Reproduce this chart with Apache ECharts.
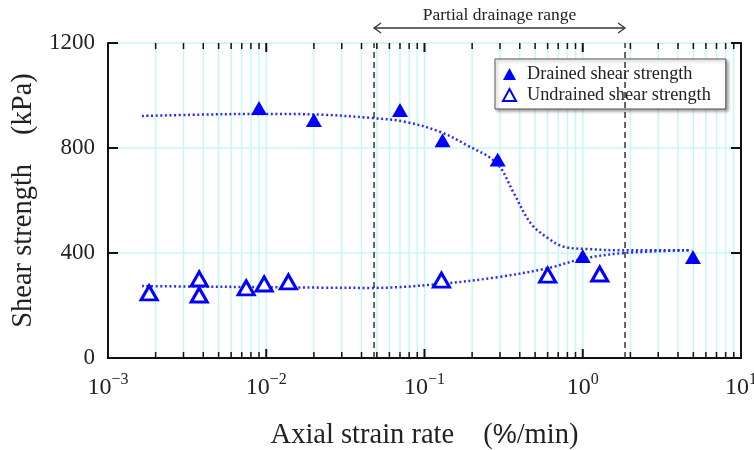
<!DOCTYPE html>
<html>
<head>
<meta charset="utf-8">
<script src="https://cdn.jsdelivr.net/npm/echarts@6/dist/echarts.min.js"></script>
<style>
html,body{margin:0;padding:0;background:#fff;}
#chart{width:754px;height:450px;}
</style>
</head>
<body>
<div id="chart"></div>
<script>
// ---- data ----
const drainedRate = [0.009, 0.020, 0.070, 0.130, 0.29, 1.0, 4.97];
const drainedStrength = [952, 907, 945, 830, 756, 389, 385];
const undrainedRate = [0.00182, 0.00377, 0.00377, 0.00747, 0.0097, 0.0138, 0.128, 0.60, 1.28];
const undrainedStrength = [248, 301, 240, 267, 282, 290, 297, 316, 320];

const drainedFitRate = [0.00164, 0.0038, 0.009, 0.022, 0.047, 0.075, 0.125, 0.185, 0.286, 0.366, 0.468, 0.60, 0.76, 1.07, 1.83, 4.85];
const drainedFitStrength = [922, 927, 930, 927, 914, 900, 862, 811, 742, 629, 514, 457, 424, 415, 410, 411];
const undrainedFitRate = [0.00164, 0.0038, 0.009, 0.022, 0.047, 0.125, 0.29, 0.60, 1.0, 1.83, 4.85];
const undrainedFitStrength = [274, 272, 270, 268, 267, 282, 308, 342, 378, 400, 411];

const drainageRange = [0.048, 1.85];
const xExponents = [-3, -2, -1, 0, 1];
const yTickValues = [0, 400, 800, 1200];
const drainageLabel = 'Partial drainage range';
const seriesNames = ['Drained shear strength', 'Undrained shear strength'];

// tick values for the log axis (1..9 x 10^k)
const xTickValues = [];
for (let k = xExponents[0]; k < xExponents[xExponents.length - 1]; k++) {
  for (let m = 1; m <= 9; m++) xTickValues.push([m * Math.pow(10, k), m === 1 ? 1 : 0, 0]);
}
xTickValues.push([Math.pow(10, xExponents[xExponents.length - 1]), 1, 0]);

const serif = '"Liberation Serif", "Times New Roman", serif';
const textColor = '#222';
const blue = '#0000ff';
const gridColor = '#c6f7f7';

const zip = (a, b) => a.map((v, i) => [v, b[i]]);
const yMin = yTickValues[0], yMax = yTickValues[yTickValues.length - 1];

const chart = echarts.init(document.getElementById('chart'), null, {renderer: 'canvas'});

const option = {
  animation: false,
  backgroundColor: '#fff',
  grid: {left: 108, right: 13, top: 43, bottom: 92, containLabel: false, outerBoundsMode: 'none'},
  legend: {
    data: [
      {name: seriesNames[0], icon: 'triangle'},
      {name: seriesNames[1], icon: 'triangle'}
    ],
    orient: 'vertical',
    left: 495, top: 59,
    padding: [6, 15, 5, 7],
    itemGap: 3,
    itemWidth: 13, itemHeight: 12,
    backgroundColor: '#fff',
    borderColor: '#555', borderWidth: 1,
    shadowBlur: 3, shadowColor: 'rgba(0,0,0,0.35)', shadowOffsetX: 2, shadowOffsetY: 2,
    textStyle: {fontFamily: serif, fontSize: 18.3, color: textColor, padding: [0, 0, 0, 6]},
    selectedMode: false
  },
  xAxis: [{
    type: 'log', logBase: 10,
    min: Math.pow(10, xExponents[0]), max: Math.pow(10, xExponents[xExponents.length - 1]),
    name: '{a|Axial strain rate\u3000(}{p|%}{a|/min)}',
    nameLocation: 'middle', nameGap: 63,
    nameTextStyle: {
      fontFamily: serif, fontSize: 28, color: textColor,
      rich: {
        a: {fontFamily: serif, fontSize: 28.5, color: textColor},
        p: {fontFamily: '"Liberation Sans", Arial, sans-serif', fontSize: 27, color: textColor}
      }
    },
    axisLine: {lineStyle: {color: '#111', width: 2}},
    axisTick: {show: false},
    splitLine: {show: false},
    minorTick: {show: false},
    axisLabel: {
      margin: 14,
      formatter: function (v) {
        const e = Math.round(Math.log10(v));
        return '{b|10}{s|' + (e < 0 ? '\u2212' + (-e) : e) + '}';
      },
      rich: {
        b: {fontFamily: serif, fontSize: 24, color: textColor, verticalAlign: 'bottom', lineHeight: 28},
        s: {fontFamily: serif, fontSize: 16, color: textColor, verticalAlign: 'top', lineHeight: 28, padding: [0, 0, 10, 0]}
      }
    }
  }, {
    type: 'log', logBase: 10, position: 'top',
    min: Math.pow(10, xExponents[0]), max: Math.pow(10, xExponents[xExponents.length - 1]),
    axisLine: {lineStyle: {color: '#111', width: 2}},
    axisTick: {show: false}, axisLabel: {show: false}, splitLine: {show: false}
  }],
  yAxis: [{
    type: 'value', min: yMin, max: yMax, interval: 400,
    name: 'Shear strength\u3000(kPa)',
    nameLocation: 'middle', nameGap: 66,
    nameTextStyle: {fontFamily: serif, fontSize: 28.5, color: textColor},
    axisLine: {show: true, lineStyle: {color: '#111', width: 2}},
    axisTick: {show: true, inside: true, length: 10, lineStyle: {color: '#111', width: 2}},
    axisLabel: {fontFamily: serif, fontSize: 23, color: textColor, margin: 13,
      formatter: function (v) { return String(v); }},
    splitLine: {show: true, lineStyle: {color: gridColor, width: 1.5}}
  }, {
    type: 'value', min: yMin, max: yMax, interval: 400, position: 'right',
    axisLine: {show: true, lineStyle: {color: '#111', width: 2}},
    axisTick: {show: true, inside: true, length: 10, lineStyle: {color: '#111', width: 2}},
    axisLabel: {show: false},
    splitLine: {show: false}
  }],
  series: [
    {
      // vertical grid lines
      type: 'custom', name: 'vgrid', z: 0, silent: true,
      data: xTickValues, encode: {x: 0, y: 2},
      renderItem: function (params, api) {
        const v = api.value(0);
        const p0 = api.coord([v, yMin]);
        const p1 = api.coord([v, yMax]);
        return {type: 'line', shape: {x1: p0[0], y1: p0[1], x2: p1[0], y2: p1[1]},
          style: {stroke: gridColor, lineWidth: 1.5}};
      }
    },
    {
      // log-axis ticks bottom and top
      type: 'custom', name: 'xticks', z: 6, silent: true,
      data: xTickValues, encode: {x: 0, y: 2},
      renderItem: function (params, api) {
        const v = api.value(0);
        const major = api.value(1) === 1;
        const p0 = api.coord([v, yMin]);
        const p1 = api.coord([v, yMax]);
        const len = major ? 9 : 6;
        const st = {stroke: '#111', lineWidth: major ? 2 : 1.5};
        return {type: 'group', children: [
          {type: 'line', shape: {x1: p0[0], y1: p0[1], x2: p0[0], y2: p0[1] - len}, style: st},
          {type: 'line', shape: {x1: p1[0], y1: p1[1], x2: p1[0], y2: p1[1] + len}, style: st}
        ]};
      }
    },
    {
      // partial drainage range: dashed bounds, arrow and label
      type: 'custom', name: 'range', z: 4, silent: true, clip: false,
      data: [[drainageRange[0], drainageRange[1], yMin]], encode: {x: [0, 1], y: 2},
      renderItem: function (params, api) {
        const a0 = api.coord([api.value(0), yMin]);
        const a1 = api.coord([api.value(0), yMax]);
        const b0 = api.coord([api.value(1), yMin]);
        const b1 = api.coord([api.value(1), yMax]);
        const dash = {stroke: '#333', lineWidth: 1.5, lineDash: [6, 4]};
        const ay = a1[1] - 15;
        const ar = {stroke: '#333', lineWidth: 1.3, fill: null};
        return {type: 'group', children: [
          {type: 'line', shape: {x1: a0[0], y1: a0[1], x2: a1[0], y2: a1[1]}, style: dash},
          {type: 'line', shape: {x1: b0[0], y1: b0[1], x2: b1[0], y2: b1[1]}, style: dash},
          {type: 'line', shape: {x1: a1[0], y1: ay, x2: b1[0], y2: ay}, style: ar},
          {type: 'polyline', shape: {points: [[a1[0] + 7, ay - 5], [a1[0], ay], [a1[0] + 7, ay + 5]]}, style: ar},
          {type: 'polyline', shape: {points: [[b1[0] - 7, ay - 5], [b1[0], ay], [b1[0] - 7, ay + 5]]}, style: ar},
          {type: 'text', x: (a1[0] + b1[0]) / 2, y: ay - 4,
            style: {text: drainageLabel, font: '17.5px ' + serif, fill: textColor, align: 'center', verticalAlign: 'bottom'}}
        ]};
      }
    },
    {
      type: 'line', name: 'drainedFit', z: 3, silent: true,
      data: zip(drainedFitRate, drainedFitStrength),
      smooth: 0.35, showSymbol: false, symbol: 'none',
      lineStyle: {color: '#2a2aff', width: 2.5, type: [2, 2.6]}
    },
    {
      type: 'line', name: 'undrainedFit', z: 3, silent: true,
      data: zip(undrainedFitRate, undrainedFitStrength),
      smooth: 0.35, showSymbol: false, symbol: 'none',
      lineStyle: {color: '#2a2aff', width: 2.5, type: [2, 2.6]}
    },
    {
      type: 'scatter', name: seriesNames[0], z: 8,
      data: zip(drainedRate, drainedStrength),
      symbol: 'triangle', symbolSize: [16, 14],
      itemStyle: {color: blue, opacity: 1}
    },
    {
      type: 'scatter', name: seriesNames[1], z: 8,
      data: zip(undrainedRate, undrainedStrength),
      symbol: 'triangle', symbolSize: [16, 14],
      itemStyle: {color: '#fff', borderColor: blue, borderWidth: 3, opacity: 1}
    }
  ]
};
chart.setOption(option);
</script>
</body>
</html>
